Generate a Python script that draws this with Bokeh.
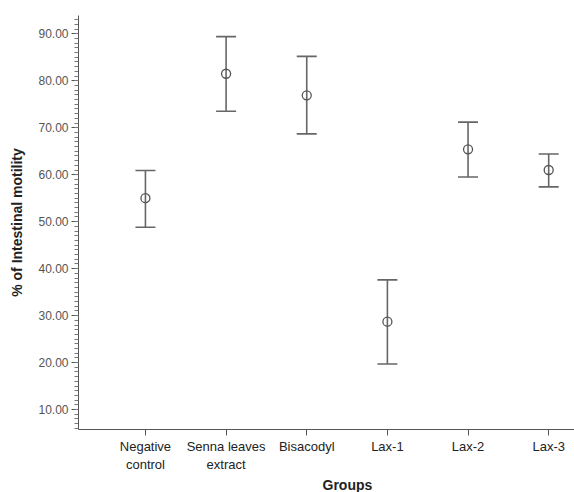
from bokeh.plotting import figure
from bokeh.models import ColumnDataSource, Whisker, TeeHead, FixedTicker, Title, Range1d
from bokeh.embed import file_html
from bokeh.resources import INLINE

groups = ["Negative\ncontrol", "Senna leaves\nextract", "Bisacodyl", "Lax-1", "Lax-2", "Lax-3"]
means = [55.0, 81.5, 76.9, 28.7, 65.4, 61.0]
upper = [60.9, 89.4, 85.2, 37.6, 71.2, 64.4]
lower = [48.8, 73.5, 68.7, 19.7, 59.5, 57.4]
y_ticks = [10, 20, 30, 40, 50, 60, 70, 80, 90]

xs = list(range(len(groups)))
src = ColumnDataSource(dict(x=xs, mean=means, upper=upper, lower=lower))

FONT = "Liberation Sans"
p = figure(width=574, height=492, output_backend="svg", toolbar_location=None,
           x_range=Range1d(-0.83, 5.32), y_range=Range1d(5.75, 93.9),
           min_border_left=78, min_border_right=0, min_border_top=15, min_border_bottom=0)
p.outline_line_color = None
p.xgrid.visible = False
p.ygrid.visible = False
p.background_fill_color = "white"
p.border_fill_color = "white"

w = Whisker(base="x", upper="upper", lower="lower", source=src,
            line_color="#666666", line_width=1.6,
            upper_head=TeeHead(size=20, line_color="#666666", line_width=1.6),
            lower_head=TeeHead(size=20, line_color="#666666", line_width=1.6))
p.add_layout(w)
p.scatter("x", "mean", source=src, marker="circle", size=9, fill_color=None,
          line_color="#555555", line_width=1.3)

# y axis
ya = p.yaxis[0]
ya.ticker = FixedTicker(ticks=y_ticks, minor_ticks=list(range(6, 94)))
ya.major_label_overrides = {t: f"{t:.2f}" for t in y_ticks}
ya.axis_label = "% of Intestinal motility"
ya.axis_label_text_font = FONT
ya.axis_label_text_font_style = "bold"
ya.axis_label_text_font_size = "14px"
ya.axis_label_text_color = "#222222"
ya.axis_label_standoff = 10
ya.major_label_text_font = FONT
ya.major_label_text_font_size = "12px"
ya.major_label_text_color = "#555555"
ya.major_label_standoff = 3
ya.major_tick_out = 7
ya.major_tick_in = 0
ya.minor_tick_out = 4
ya.minor_tick_in = 0
ya.axis_line_color = "#555555"
ya.major_tick_line_color = "#555555"
ya.minor_tick_line_color = "#777777"

# x axis
xa = p.xaxis[0]
xa.ticker = FixedTicker(ticks=xs, minor_ticks=[])
xa.major_label_overrides = {i: g for i, g in zip(xs, groups)}
xa.major_label_text_font = FONT
xa.major_label_text_font_size = "13px"
xa.major_label_text_color = "#222222"
xa.major_label_standoff = 3
xa.major_tick_out = 6
xa.major_tick_in = 0
xa.minor_tick_out = 0
xa.axis_line_color = "#555555"
xa.major_tick_line_color = "#555555"

p.add_layout(Title(text="Groups", align="left", offset=244, standoff=0,
                   text_font=FONT, text_font_style="bold", text_font_size="14px",
                   text_color="#222222"), "below")

open("out.html", "w").write(file_html(p, INLINE))
